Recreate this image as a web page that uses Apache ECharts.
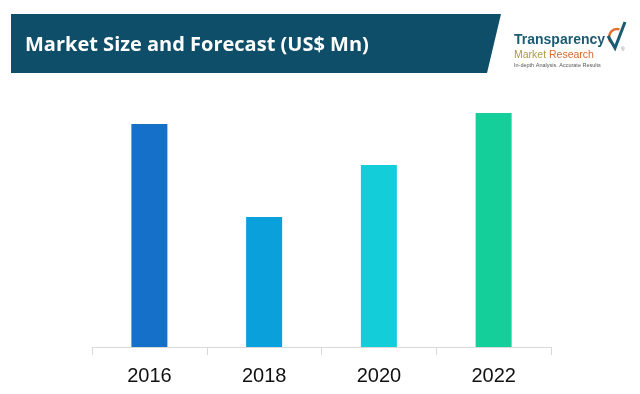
<!DOCTYPE html>
<html><head><meta charset="utf-8">
<script src="https://cdn.jsdelivr.net/npm/echarts@6/dist/echarts.min.js"></script>
<style>html,body{margin:0;padding:0;background:#fff}#c{width:640px;height:394px}</style>
</head><body><div id="c"></div>
<script>
const categories = ['2016', '2018', '2020', '2022'];
const values = [223, 130, 182, 234];
const barColors = ['#1470c8', '#0aa0dc', '#13cdd8', '#15cf9a'];
const titleText = 'Market Size and Forecast (US$ Mn)';

const chart = echarts.init(document.getElementById('c'), null, {renderer: 'canvas'});
chart.setOption({
  animation: false,
  grid: {left: 92, right: 89, top: 80, bottom: 47, containLabel: false},
  xAxis: {
    type: 'category', data: categories,
    axisLine: {lineStyle: {color: '#d9d9d9', width: 1}},
    axisTick: {show: true, length: 8, lineStyle: {color: '#d9d9d9'}},
    axisLabel: {color: '#111', fontSize: 20, fontFamily: 'Liberation Sans', margin: 19}
  },
  yAxis: {type: 'value', min: 0, max: 267, show: false, splitLine: {show: false}},
  series: [{
    type: 'bar', barWidth: 36,
    data: values.map((v, i) => ({value: v, itemStyle: {color: barColors[i]}}))
  }],
  graphic: [
    {type: 'polygon', shape: {points: [[11,14],[501,14],[487,73],[11,73]]}, style: {fill: '#0e4e68'}},
    {type: 'text', left: 25, top: 35, style: {text: titleText, fill: '#fff', font: 'bold 20px "Open Sans"'}},
    {type: 'text', left: 514, top: 33, style: {text: 'Transparency', fill: '#1c5a72', font: 'bold 14px "Liberation Sans"'}},
    {type: 'text', left: 514, top: 50, style: {rich: {a: {fill: '#a89c3c', font: '10.5px "Liberation Sans"'}, b: {fill: '#d8682c', font: '10.5px "Liberation Sans"'}}, text: '{a|Market }{b|Research}'}},
    {type: 'text', left: 514, top: 62, style: {text: 'In-depth Analysis. Accurate Results', fill: '#555', font: '5.5px "Liberation Sans"'}},
    {type: 'arc', shape: {cx: 617, cy: 37, r: 8, startAngle: Math.PI * 0.75, endAngle: Math.PI * 1.6}, style: {stroke: '#e0702c', lineWidth: 2.5, fill: null}},
    {type: 'polyline', shape: {points: [[608,36],[615,48],[625,22]]}, style: {stroke: '#1c5a72', lineWidth: 3, fill: null}},
    {type: 'text', left: 621, top: 47, style: {text: '®', fill: '#888', font: '5px "Liberation Sans"'}}
  ]
});
</script></body></html>
